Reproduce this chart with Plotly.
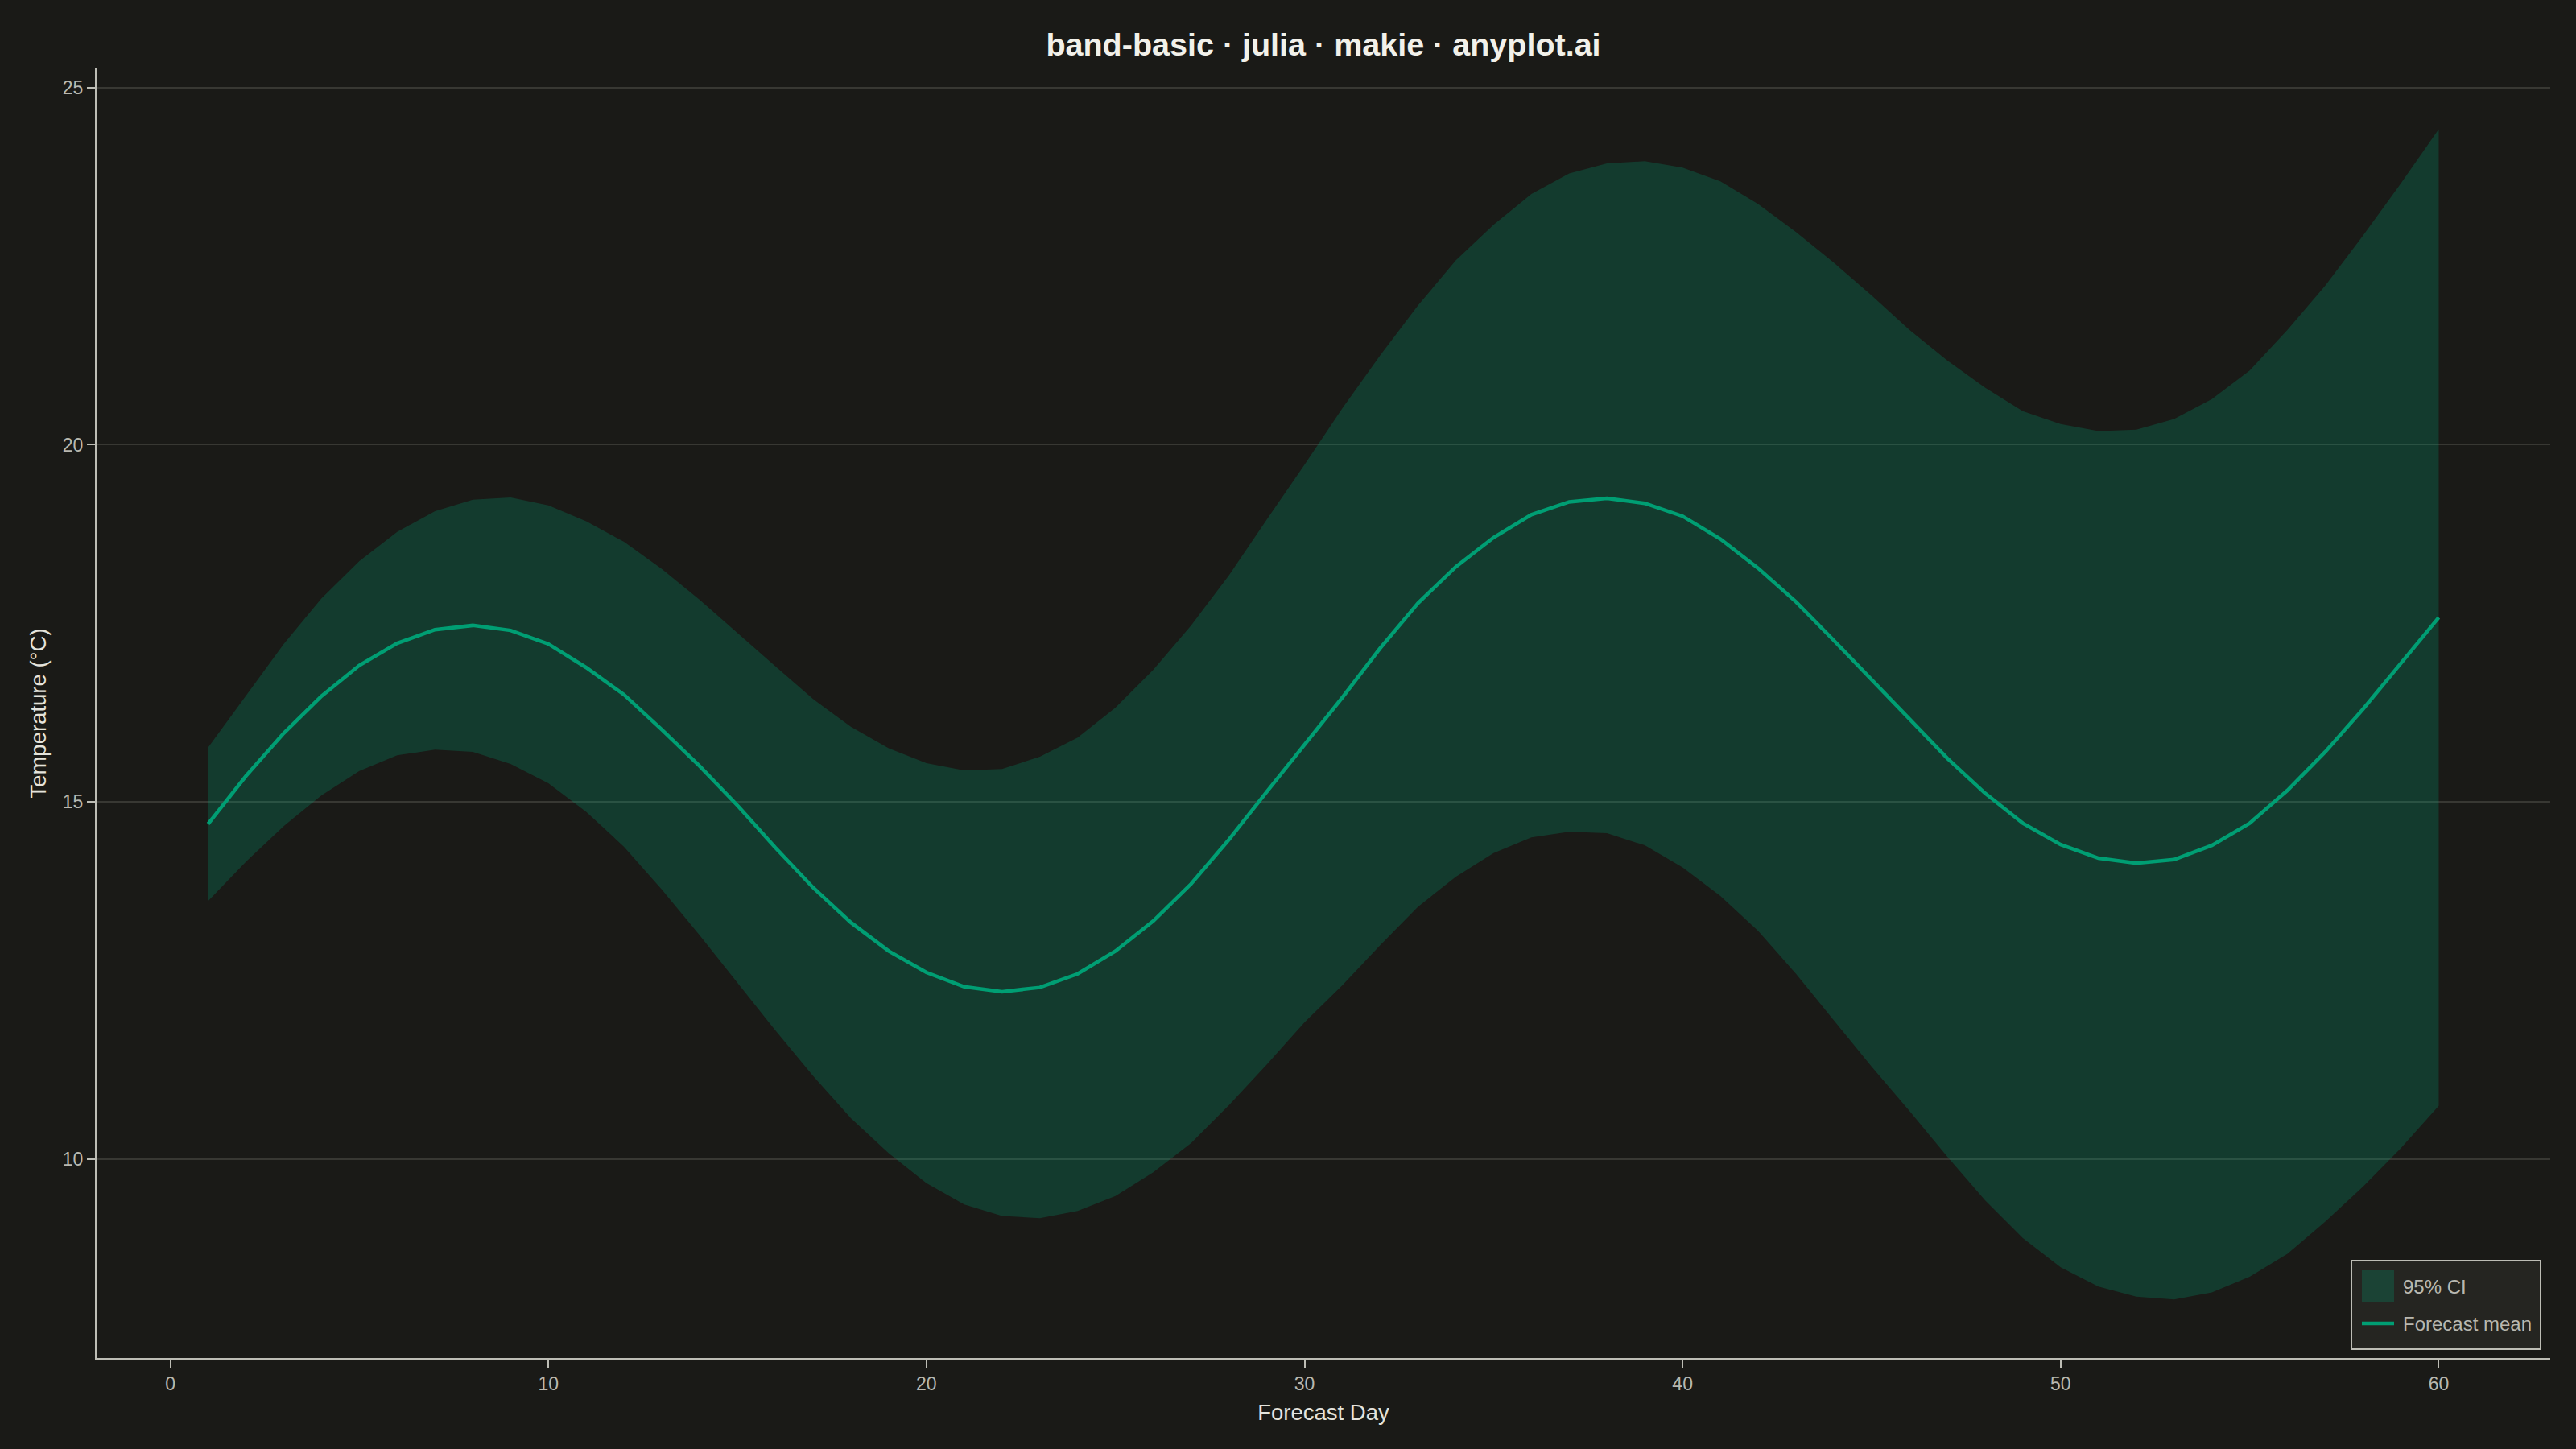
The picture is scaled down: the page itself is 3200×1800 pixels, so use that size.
import plotly.graph_objects as go

# ---- data ----
days = list(range(1, 61))

mean_temp = [14.69, 15.36, 15.96, 16.48, 16.91, 17.22, 17.41, 17.47, 17.40, 17.21,
             16.88, 16.50, 16.01, 15.50, 14.95, 14.36, 13.80, 13.31, 12.91, 12.61,
             12.41, 12.34, 12.40, 12.59, 12.91, 13.33, 13.85, 14.47, 15.14, 15.80,
             16.46, 17.15, 17.78, 18.29, 18.70, 19.02, 19.20, 19.25, 19.18, 19.00,
             18.68, 18.27, 17.80, 17.26, 16.71, 16.17, 15.61, 15.12, 14.70, 14.40,
             14.21, 14.14, 14.19, 14.39, 14.70, 15.16, 15.70, 16.30, 16.94, 17.58]

upper_ci = [15.76, 16.49, 17.21, 17.85, 18.37, 18.78, 19.07, 19.23, 19.26, 19.15,
            18.93, 18.64, 18.26, 17.83, 17.36, 16.90, 16.44, 16.05, 15.75, 15.54,
            15.44, 15.46, 15.63, 15.90, 16.32, 16.85, 17.47, 18.17, 18.95, 19.72,
            20.51, 21.25, 21.95, 22.58, 23.08, 23.51, 23.80, 23.94, 23.97, 23.88,
            23.69, 23.37, 22.98, 22.55, 22.09, 21.61, 21.18, 20.80, 20.47, 20.29,
            20.19, 20.21, 20.36, 20.64, 21.04, 21.61, 22.23, 22.93, 23.66, 24.42]

lower_ci = [13.61, 14.16, 14.66, 15.09, 15.43, 15.65, 15.73, 15.70, 15.53, 15.26,
            14.86, 14.37, 13.77, 13.13, 12.47, 11.80, 11.16, 10.57, 10.08, 9.66,
            9.36, 9.20, 9.17, 9.27, 9.48, 9.81, 10.22, 10.75, 11.32, 11.91,
            12.43, 12.99, 13.53, 13.95, 14.28, 14.50, 14.58, 14.56, 14.39, 14.08,
            13.68, 13.19, 12.59, 11.94, 11.29, 10.67, 10.03, 9.42, 8.89, 8.48,
            8.21, 8.07, 8.03, 8.13, 8.35, 8.67, 9.12, 9.61, 10.15, 10.74]

x_ticks = [0, 10, 20, 30, 40, 50, 60]
y_ticks = [10, 15, 20, 25]

band_label = "95% CI"
mean_label = "Forecast mean"

# ---- style ----
W, H = 3200, 1800
ML, MR, MT, MB = 120, 32, 85, 113
BG = "#1A1A17"
GREEN = "#009E73"
BAND = "rgba(0,158,115,0.25)"
AXIS = "#BDBDB5"
TICKTXT = "#B8B8B0"
LABELTXT = "#E4E3DC"
FONT = "Liberation Sans, Arial, sans-serif"

PW = W - ML - MR
PH = H - MT - MB


def px_x(px):
    return (px - ML) / PW


def px_y(py):
    return (H - MB - py) / PH


fig = go.Figure()

fig.add_trace(go.Scatter(
    x=days + days[::-1],
    y=upper_ci + lower_ci[::-1],
    fill="toself",
    fillcolor=BAND,
    line=dict(width=0, color=BAND),
    mode="lines",
    name=band_label,
    hoverinfo="skip",
    showlegend=False,
))

fig.add_trace(go.Scatter(
    x=days,
    y=mean_temp,
    mode="lines",
    line=dict(color=GREEN, width=4.5),
    name=mean_label,
    hoverinfo="skip",
    showlegend=False,
))

# ---- legend box (drawn to match the Makie legend) ----
shapes = [
    dict(type="rect", xref="paper", yref="paper",
         x0=px_x(2921), x1=px_x(3156), y0=px_y(1676), y1=px_y(1566),
         fillcolor="#252521", line=dict(color=AXIS, width=2), layer="above"),
    dict(type="rect", xref="paper", yref="paper",
         x0=px_x(2934), x1=px_x(2974), y0=px_y(1618), y1=px_y(1578),
         fillcolor=BAND, line=dict(width=0), layer="above"),
    dict(type="line", xref="paper", yref="paper",
         x0=px_x(2934), x1=px_x(2974), y0=px_y(1644), y1=px_y(1644),
         line=dict(color=GREEN, width=4.5), layer="above"),
]
annotations = [
    dict(text=band_label, xref="paper", yref="paper",
         x=px_x(2983), y=px_y(1598), xanchor="left", yanchor="middle",
         showarrow=False, font=dict(family=FONT, size=24, color=TICKTXT)),
    dict(text=mean_label, xref="paper", yref="paper",
         x=px_x(2983), y=px_y(1644), xanchor="left", yanchor="middle",
         showarrow=False, font=dict(family=FONT, size=24, color=TICKTXT)),
]

fig.update_layout(
    width=W,
    height=H,
    paper_bgcolor=BG,
    plot_bgcolor=BG,
    margin=dict(l=ML, r=MR, t=MT, b=MB),
    font=dict(family=FONT, color=TICKTXT, size=23),
    title=dict(
        text="<b>band-basic · julia · makie · anyplot.ai</b>",
        x=1644 / W, xanchor="center",
        y=1 - 55 / H, yanchor="middle", yref="container",
        font=dict(family=FONT, size=39.5, color="#F2F1EA"),
    ),
    showlegend=False,
    shapes=shapes,
    annotations=annotations,
)

fig.update_xaxes(
    range=[-1.95, 62.95],
    tickmode="array",
    tickvals=x_ticks,
    ticktext=[str(v) for v in x_ticks],
    showgrid=False,
    zeroline=False,
    showline=True,
    linecolor=AXIS,
    linewidth=2,
    ticks="outside",
    ticklen=10,
    tickwidth=2,
    tickcolor=AXIS,
    tickfont=dict(family=FONT, size=23, color=TICKTXT),
    title=dict(text="Forecast Day", font=dict(family=FONT, size=27.5, color=LABELTXT), standoff=14),
)

fig.update_yaxes(
    range=[7.21, 25.27],
    tickmode="array",
    tickvals=y_ticks,
    ticktext=[str(v) for v in y_ticks],
    showgrid=True,
    gridcolor="rgba(240,240,230,0.14)",
    gridwidth=1.5,
    zeroline=False,
    showline=True,
    linecolor=AXIS,
    linewidth=2,
    ticks="outside",
    ticklen=10,
    tickwidth=2,
    tickcolor=AXIS,
    tickfont=dict(family=FONT, size=23, color=TICKTXT),
    title=dict(text="Temperature (°C)", font=dict(family=FONT, size=27.5, color=LABELTXT), standoff=12),
)

fig.write_html(
    "out.html",
    config={"displayModeBar": False},
    post_script="document.body.style.margin='0';document.body.style.overflow='hidden';"
                "document.body.style.background='" + BG + "';",
)
